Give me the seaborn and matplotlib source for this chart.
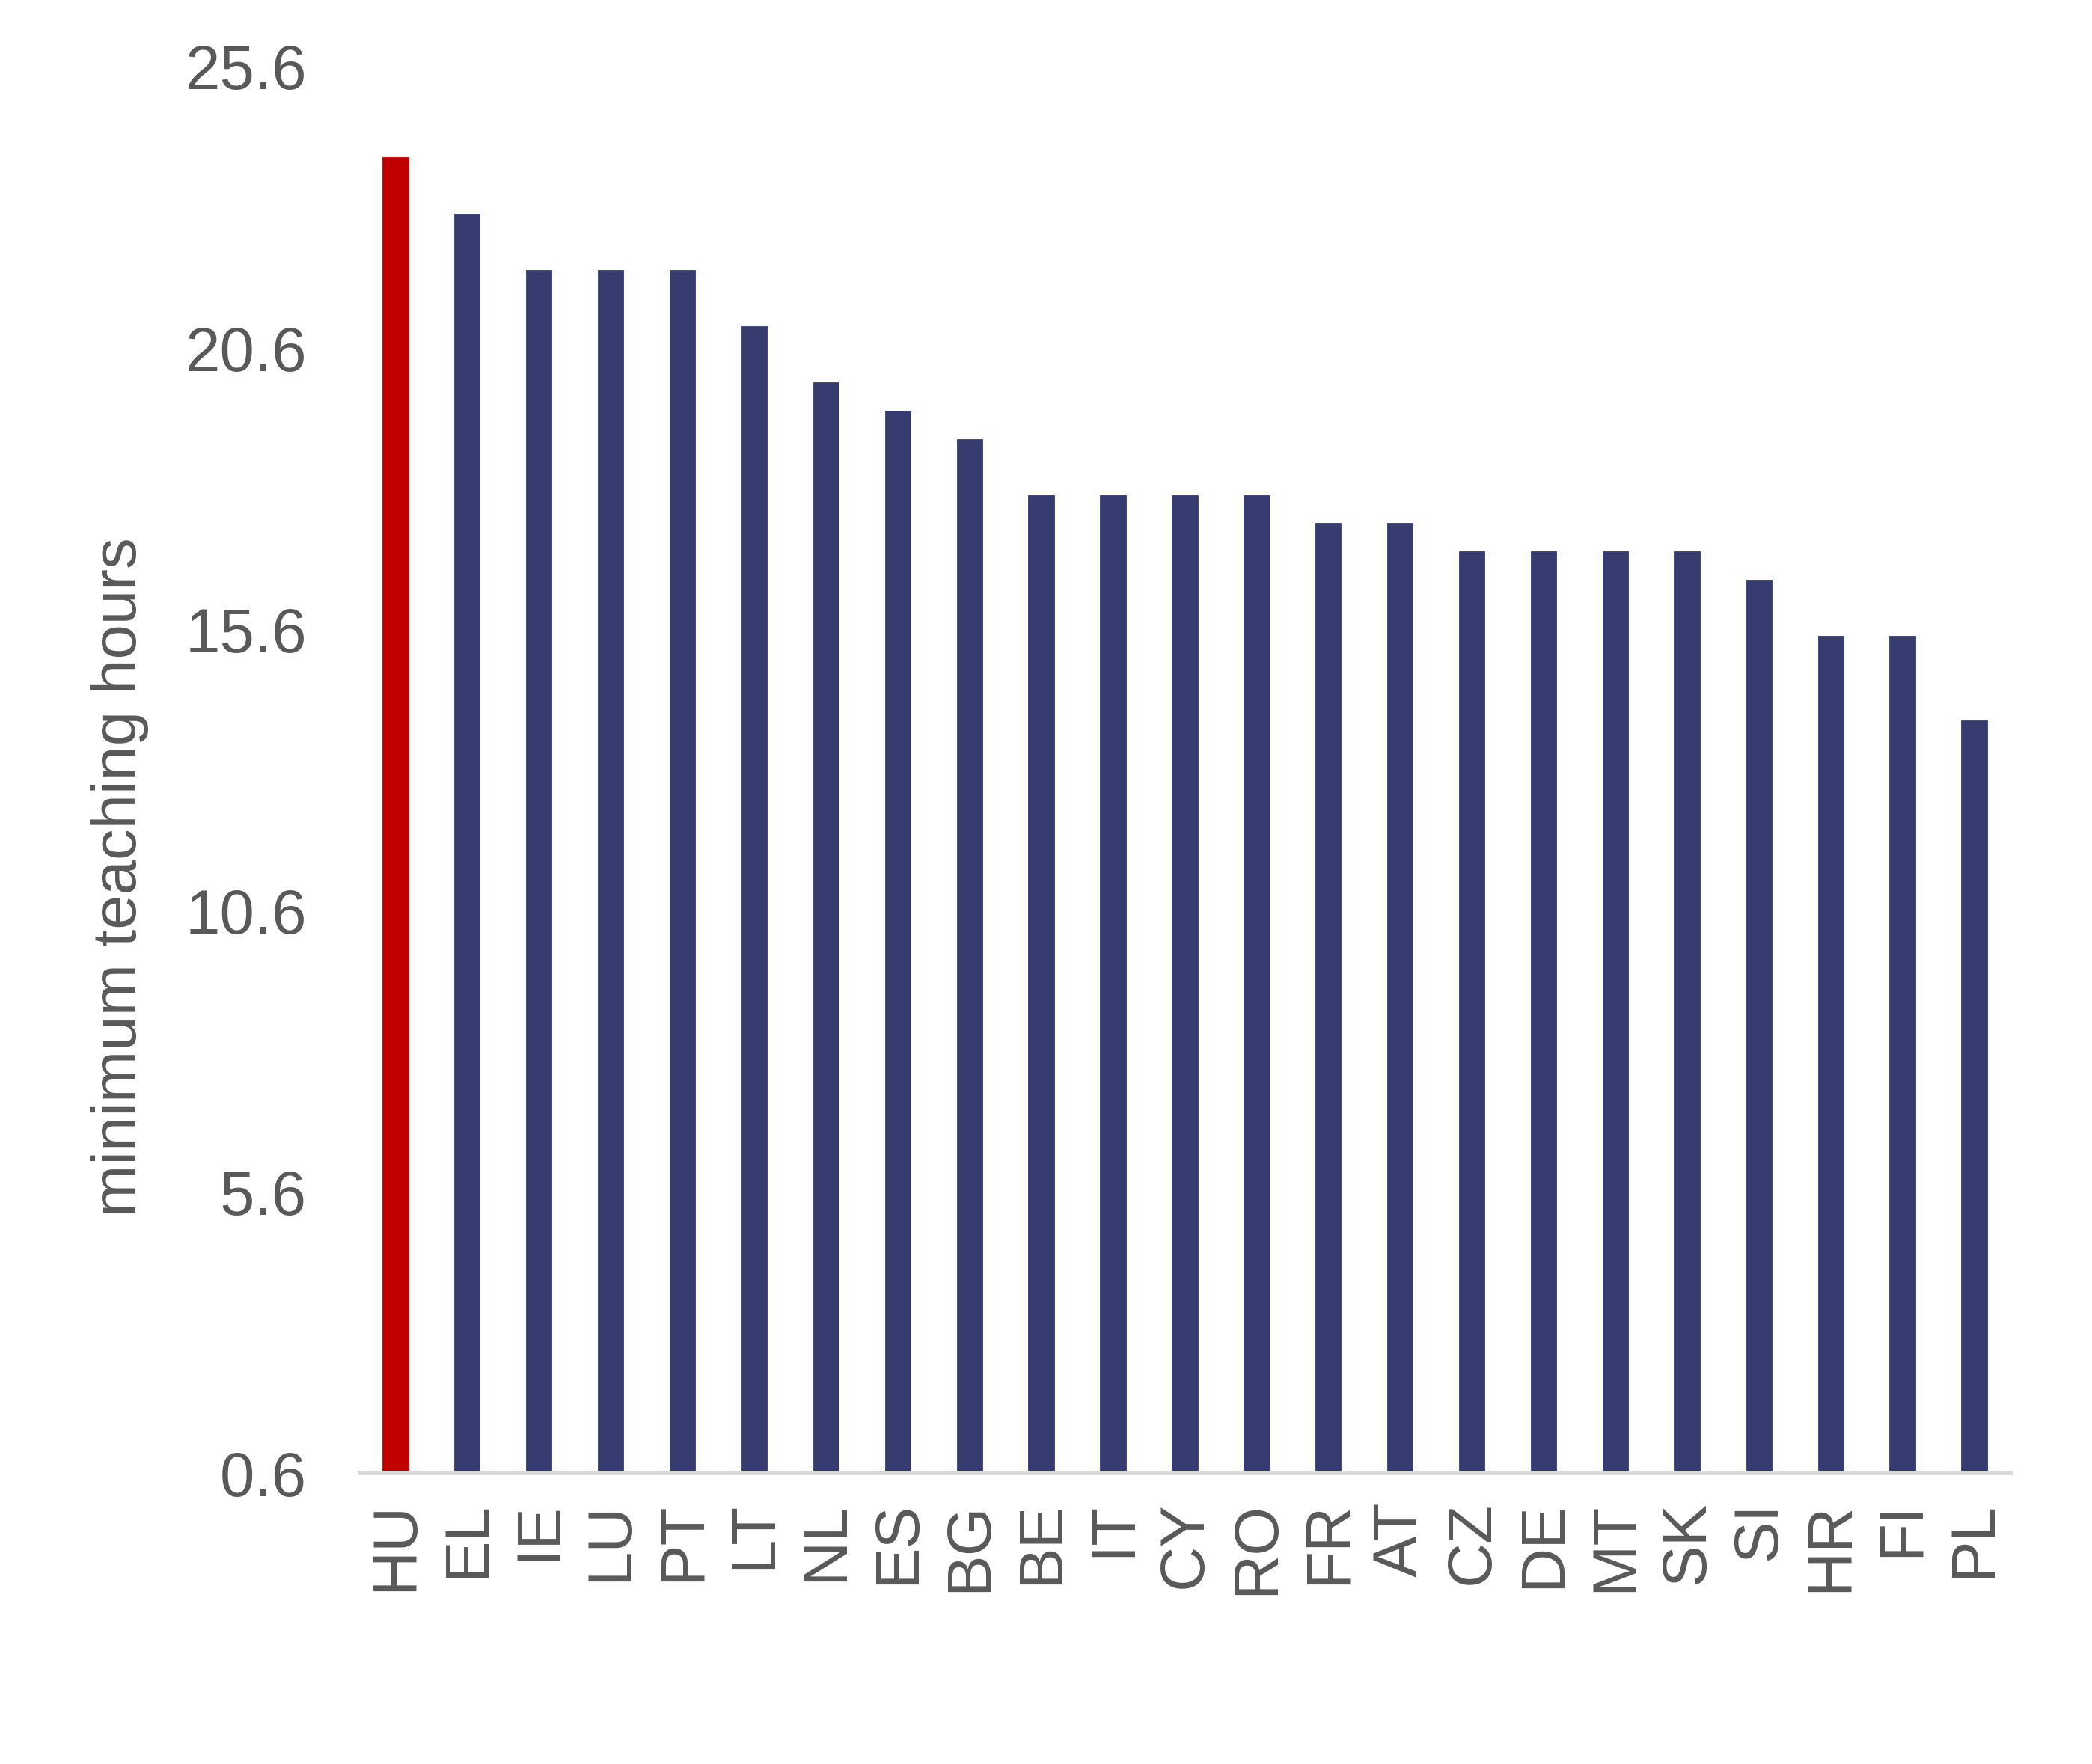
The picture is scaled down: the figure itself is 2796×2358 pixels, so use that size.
import matplotlib
matplotlib.use("Agg")
import matplotlib.pyplot as plt
import pandas as pd
import seaborn as sns


countries = ["HU", "EL", "IE", "LU", "PT", "LT", "NL", "ES", "BG", "BE", "IT", "CY",
             "RO", "FR", "AT", "CZ", "DE", "MT", "SK", "SI", "HR", "FI", "PL"]
hours = [24, 23, 22, 22, 22, 21, 20, 19.5, 19, 18, 18, 18,
         18, 17.5, 17.5, 17, 17, 17, 17, 16.5, 15.5, 15.5, 14]
y_ticks = [0.6, 5.6, 10.6, 15.6, 20.6, 25.6]
highlight = "HU"

RED = "#C00000"
NAVY = "#363C70"
TEXT = "#595959"
AXIS = "#D9D9D9"


def plot_teaching_hours():
    sns.set_style("white")
    plt.rcParams["font.family"] = ["Liberation Sans", "DejaVu Sans"]

    data = pd.DataFrame({"country": countries, "hours": hours})
    palette = {c: (RED if c == highlight else NAVY) for c in countries}

    fig = plt.figure(figsize=(9.32, 7.863), dpi=300)
    ax = fig.add_axes([0.172, 0.165, 0.789, 0.7973])
    sns.barplot(data=data, x="country", y="hours", hue="country", palette=palette,
                legend=False, width=0.41, saturation=1, ax=ax)

    ax.set_ylim(0.6, 25.6)
    ax.set_xlim(-0.5, len(countries) - 0.5)
    ax.set_yticks(y_ticks)
    ax.set_yticklabels([f"{t:.1f}" for t in y_ticks])
    ax.tick_params(axis="y", length=0, pad=17, labelsize=20, labelcolor=TEXT)
    ax.tick_params(axis="x", length=0, pad=9, labelsize=20, labelcolor=TEXT, rotation=90)

    for side in ["top", "right", "left"]:
        ax.spines[side].set_visible(False)
    ax.spines["bottom"].set_color(AXIS)
    ax.spines["bottom"].set_linewidth(1.4)

    ax.set_xlabel("")
    ax.set_ylabel("minimum teaching hours", fontsize=20, color=TEXT)
    ax.yaxis.set_label_coords(-0.128, 0.424)
    return fig


def save_plot(fig, filename):
    fig.savefig(filename, dpi=300)
    return filename


if __name__ == "__main__":
    save_plot(plot_teaching_hours(), "out.png")
